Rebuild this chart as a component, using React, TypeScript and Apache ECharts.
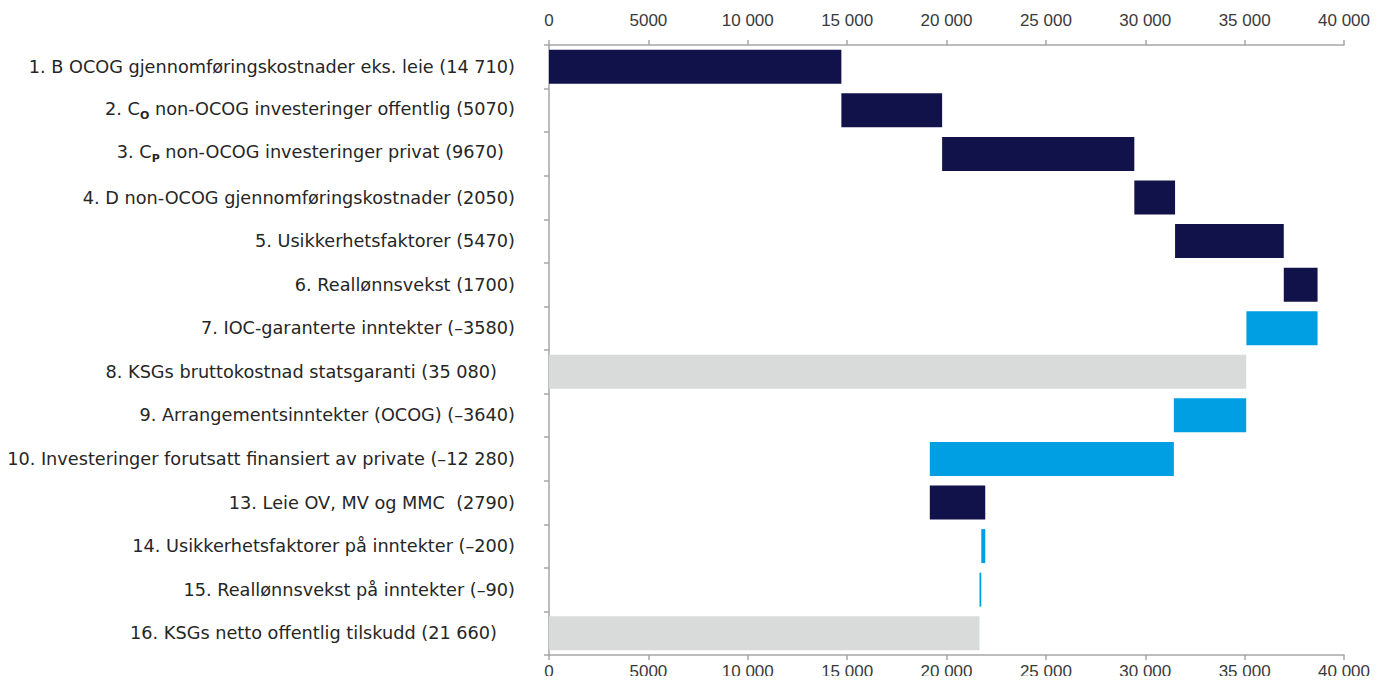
import React, { useEffect, useRef } from "react";
import * as echarts from "echarts";

const categories = [
  "1. B OCOG gjennomføringskostnader eks. leie (14 710)",
  "2. C{sub|O} non-OCOG investeringer offentlig (5070)",
  "3. C{sub|P} non-OCOG investeringer privat (9670)",
  "4. D non-OCOG gjennomføringskostnader (2050)",
  "5. Usikkerhetsfaktorer (5470)",
  "6. Reallønnsvekst (1700)",
  "7. IOC-garanterte inntekter (–3580)",
  "8. KSGs bruttokostnad statsgaranti (35 080)",
  "9. Arrangementsinntekter (OCOG) (–3640)",
  "10. Investeringer forutsatt finansiert av private (–12 280)",
  "13. Leie OV, MV og MMC  (2790)",
  "14. Usikkerhetsfaktorer på inntekter (–200)",
  "15. Reallønnsvekst på inntekter (–90)",
  "16. KSGs netto offentlig tilskudd (21 660)",
];
// change per step; totals flagged separately
const values = [14710, 5070, 9670, 2050, 5470, 1700, -3580, 35080, -3640, -12280, 2790, -200, -90, 21660];
const isTotal = [false, false, false, false, false, false, false, true, false, false, false, false, false, true];
// labels that carry a trailing gap in the original
const labelPad = ["", "", "p3", "", "", "", "", "p8", "", "", "", "", "", "p8"];

const DARK = "#12124a";
const BLUE = "#009fe3";
const GREY = "#d9dada";
const LABEL_FONT = "DejaVu Sans, sans-serif";
const LABEL_SIZE = 17.7;
const LABEL_COLOR = "#262626";

const tickFmt = (v: number) => {
  if (v >= 10000) {
    const s = String(v);
    return s.slice(0, s.length - 3) + " " + s.slice(s.length - 3);
  }
  return String(v);
};

const fmtLabel = (val: string, idx: number) => {
  let out: string;
  if (val.indexOf("{sub|") >= 0) {
    const m = val.match(/^(.*?)\{sub\|(.*?)\}(.*)$/);
    out = m ? `{m|${m[1]}}{sub|${m[2]}}{m|${m[3]}}` : val;
  } else {
    out = val;
  }
  if (labelPad[idx]) out += `{${labelPad[idx]}|}`;
  return out;
};

export default function App() {
  const ref = useRef<HTMLDivElement>(null);
  useEffect(() => {
    if (!ref.current) return;
    const chart = echarts.init(ref.current, null, { renderer: "svg" });

    const base: number[] = [];
    const bars: any[] = [];
    let cum = 0;
    values.forEach((v, i) => {
      if (isTotal[i]) {
        base.push(0);
        bars.push({ value: v, itemStyle: { color: GREY } });
        cum = v;
      } else if (v >= 0) {
        base.push(cum);
        bars.push({ value: v, itemStyle: { color: DARK } });
        cum += v;
      } else {
        base.push(cum + v);
        bars.push({ value: -v, itemStyle: { color: BLUE } });
        cum += v;
      }
    });

    const axisCommon = {
      type: "value" as const,
      min: 0,
      max: 40000,
      interval: 5000,
      splitLine: { show: false },
      axisLine: { show: true, lineStyle: { color: "#a6a6a6", width: 1.5 } },
      axisTick: { show: true, length: 5, lineStyle: { color: "#a6a6a6", width: 1.5 } },
      axisLabel: {
        formatter: tickFmt,
        fontFamily: "Liberation Sans Narrow, Liberation Sans, sans-serif",
        fontSize: 17,
        color: "#3a3a3a",
      },
    };

    chart.setOption({
      animation: false,
      grid: { left: 549, right: 39, top: 45, bottom: 29, containLabel: false, outerBoundsMode: "none" },
      xAxis: [
        { ...axisCommon, position: "bottom", axisLabel: { ...axisCommon.axisLabel, margin: 8 } },
        { ...axisCommon, position: "top", axisLabel: { ...axisCommon.axisLabel, margin: 16 } },
      ],
      yAxis: {
        type: "category",
        inverse: true,
        data: categories,
        axisLine: { show: true, lineStyle: { color: "#a6a6a6", width: 1.5 } },
        axisTick: { show: true, length: 5, lineStyle: { color: "#a6a6a6", width: 1.5 } },
        axisLabel: {
          margin: 34,
          color: LABEL_COLOR,
          fontFamily: LABEL_FONT,
          fontSize: LABEL_SIZE,
          formatter: fmtLabel,
          rich: {
            m: {
              fontSize: LABEL_SIZE,
              fontFamily: LABEL_FONT,
              color: LABEL_COLOR,
              lineHeight: 21,
              verticalAlign: "top",
            },
            sub: {
              fontSize: 11,
              fontWeight: "bold",
              fontFamily: LABEL_FONT,
              color: LABEL_COLOR,
              lineHeight: 13,
              verticalAlign: "bottom",
              padding: [11, 0, 0, 0],
            },
            p3: { width: 11 },
            p8: { width: 18 },
          },
        },
      },
      series: [
        {
          type: "bar",
          stack: "w",
          xAxisIndex: 0,
          data: base,
          itemStyle: { color: "transparent" },
          barCategoryGap: "22%",
          silent: true,
        },
        {
          type: "bar",
          stack: "w",
          xAxisIndex: 0,
          data: bars,
          barCategoryGap: "22%",
        },
      ],
    });
    return () => chart.dispose();
  }, []);
  return <div ref={ref} style={{ width: 1383, height: 684, margin: -8 }} />;
}
